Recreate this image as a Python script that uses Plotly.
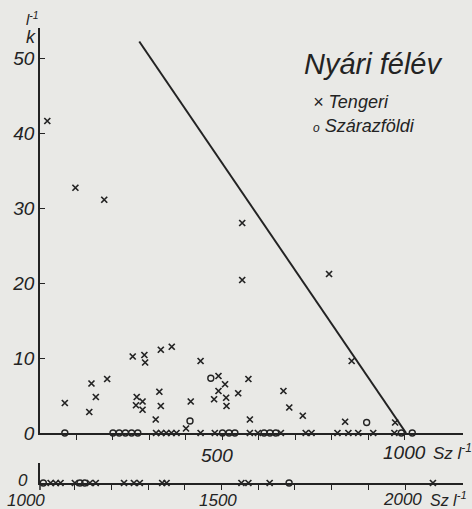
import plotly.graph_objects as go

# --- data (Sz in l^-1, k in l^-1) ---
# main panel, Tengeri (x markers)
sea_sz = [20, 97, 176, 554, 554, 792, 854,
          68, 135, 141, 153, 184,
          254, 286, 288, 265, 263, 281, 281,
          331, 361, 327, 331, 317,
          413, 400, 440,
          489, 489, 477, 507, 510, 511, 543,
          571, 575, 667, 683, 720, 836, 973,
          318, 332, 346, 360, 374, 440, 479, 575, 597, 660,
          728, 744, 815, 845, 872, 913, 971]
sea_k = [41.6, 32.7, 31.1, 28.0, 20.4, 21.2, 9.6,
         4.0, 2.8, 6.6, 4.8, 7.2,
         10.2, 10.4, 9.4, 4.8, 3.7, 4.2, 3.1,
         11.1, 11.5, 5.5, 3.6, 1.8,
         4.2, 0.6, 9.6,
         7.6, 5.6, 4.5, 6.5, 4.7, 3.6, 5.3,
         7.2, 1.8, 5.6, 3.4, 2.3, 1.5, 1.4,
         0, 0, 0, 0, 0, 0, 0, 0, 0, 0,
         0, 0, 0, 0, 0, 0, 0]

# main panel, Szárazföldi (o markers)
land_sz = [468, 411, 895,
           68, 200, 217, 234, 251, 268, 500, 518, 534, 614, 630, 646, 990, 1020]
land_k = [7.3, 1.6, 1.4,
          0, 0, 0, 0, 0, 0, 0, 0, 0, 0, 0, 0, 0, 0]

# lower strip (1000-2000 Sz l^-1), all k = 0
sea2_sz = [1034, 1048, 1061, 1100, 1141, 1157, 1234, 1261, 1277, 1338, 1350,
           1554, 1573, 1631, 2076]
land2_sz = [1014, 1114, 1127, 1684]

# boundary line
line_sz = [272, 1003]
line_k = [52.2, 0]

main_ticks = list(range(100, 1001, 100))
low_ticks = list(range(1100, 2001, 100))
k_ticks = [0, 10, 20, 30, 40, 50]

W, H = 472, 509
L, R = 40, 9
INK = "#232323"
PAPER = "#e9e9e6"
FONT = "Liberation Sans, Arial, sans-serif"


def pos(x, y):
    return (x - L) / (W - L - R), (H - y) / H


fig = go.Figure()

fig.add_trace(go.Scatter(x=line_sz, y=line_k, mode="lines",
                         line=dict(color=INK, width=2), cliponaxis=False,
                         hoverinfo="skip"))

x_marker = dict(symbol="x-thin", size=6, line=dict(color=INK, width=1.7))
o_marker = dict(symbol="circle-open", size=6, color=INK, line=dict(color=INK, width=1.4))

fig.add_trace(go.Scatter(x=sea_sz, y=sea_k, mode="markers", name="Tengeri",
                         marker=x_marker, cliponaxis=False))
fig.add_trace(go.Scatter(x=land_sz, y=land_k, mode="markers", name="Szárazföldi",
                         marker=o_marker, cliponaxis=False))
fig.add_trace(go.Scatter(x=sea2_sz, y=[0] * len(sea2_sz), mode="markers",
                         name="Tengeri", marker=x_marker, cliponaxis=False,
                         xaxis="x2", yaxis="y2"))
fig.add_trace(go.Scatter(x=land2_sz, y=[0] * len(land2_sz), mode="markers",
                         name="Szárazföldi", marker=o_marker, cliponaxis=False,
                         xaxis="x2", yaxis="y2"))

tick_font = dict(family=FONT, size=19, color=INK, style="italic")

fig.update_layout(
    width=W, height=H,
    margin=dict(l=L, r=R, t=0, b=0),
    paper_bgcolor=PAPER, plot_bgcolor=PAPER,
    showlegend=False,
    xaxis=dict(domain=[0, 1], range=[0, 1159], anchor="y", automargin=False,
               showline=True, linecolor=INK, linewidth=1.5,
               ticks="outside", ticklen=5, tickwidth=1.2, tickcolor=INK,
               tickvals=main_ticks, showticklabels=False,
               showgrid=False, zeroline=False),
    yaxis=dict(domain=[(H - 433) / H, (H - 28) / H], range=[0, 54], anchor="x",
               automargin=False,
               showline=True, linecolor=INK, linewidth=1.5,
               ticks="inside", ticklen=5, tickwidth=1.2, tickcolor=INK,
               tickvals=k_ticks, tickfont=tick_font,
               showgrid=False, zeroline=False),
    xaxis2=dict(domain=[0, 1], range=[1005, 2158], anchor="y2", automargin=False,
                showline=True, linecolor=INK, linewidth=1.5,
                ticks="outside", ticklen=5, tickwidth=1.2, tickcolor=INK,
                tickvals=low_ticks, showticklabels=False,
                showgrid=False, zeroline=False),
    yaxis2=dict(domain=[(H - 483) / H, (H - 463) / H], range=[0, 1], anchor="x2",
                automargin=False,
                showline=True, linecolor=INK, linewidth=1.5,
                ticks="", showticklabels=False,
                showgrid=False, zeroline=False),
)

# short stub of the lower strip's vertical bar below its axis
x0, y0 = pos(40, 490)
_, y1 = pos(40, 483)
fig.add_shape(type="line", xref="paper", yref="paper", x0=x0, x1=x0, y0=y0, y1=y1,
              line=dict(color=INK, width=1.5))

labels = [
    ("l<sup>-1</sup>", 32, 18, 15, "center"),
    ("k", 31, 37, 18, "center"),
    ("500", 217, 455, 19, "center"),
    ("1000", 404, 452, 19, "center"),
    ("Sz l<sup>-1</sup>", 431, 452, 17, "left"),
    ("0", 23, 480, 17, "center"),
    ("1000", 26, 500, 17, "center"),
    ("1500", 218, 500, 17, "center"),
    ("2000", 402, 499, 17, "center"),
    ("Sz l<sup>-1</sup>", 428, 499, 16, "left"),
    ("Nyári félév", 302, 64, 29, "left"),
    ("× Tengeri", 311, 102, 18, "left"),
    ("<span style='font-size:12px'>o</span> Szárazföldi", 311, 126, 18, "left"),
]
for text, x, y, size, anchor in labels:
    ax, ay = pos(x, y)
    fig.add_annotation(text=text, x=ax, y=ay, xref="paper", yref="paper",
                       xanchor=anchor, yanchor="middle", showarrow=False,
                       font=dict(family=FONT, size=size, color=INK, style="italic"))

# the page body has a default 8px margin; drop it so the figure fills the window
fig.write_html("out.html", config={"displayModeBar": False},
               post_script="document.body.style.margin='0';document.body.style.background='%s';" % PAPER)
